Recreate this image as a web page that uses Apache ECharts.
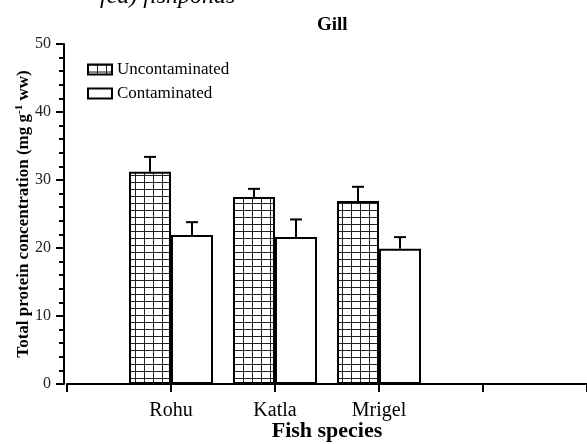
<!DOCTYPE html>
<html>
<head>
<meta charset="utf-8">
<script src="https://cdn.jsdelivr.net/npm/echarts@6/dist/echarts.min.js"></script>
<style>
html,body{margin:0;padding:0;background:#fff;}
#chart{width:587px;height:444px;}
</style>
</head>
<body>
<div id="chart"></div>
<script>
// Data
const tickLabels = ['', 'Rohu', 'Katla', 'Mrigel', '', ''];
const species = ['Rohu', 'Katla', 'Mrigel'];
const uncontaminated = [31.2, 27.5, 26.9];
const uncontaminatedErr = [2.2, 1.2, 2.1];
const contaminated = [21.9, 21.6, 19.9];
const contaminatedErr = [1.9, 2.6, 1.7];

const FONT = '"Liberation Serif", "Times New Roman", serif';

function padData(vals) {
  return tickLabels.map(function (t) {
    const i = species.indexOf(t);
    return i >= 0 ? vals[i] : '-';
  });
}
function errData(vals, errs) {
  return species.map(function (s, i) {
    return [tickLabels.indexOf(s), vals[i], errs[i]];
  });
}

// grid hatch pattern
const pc = document.createElement('canvas');
pc.width = 9; pc.height = 7;
const g = pc.getContext('2d');
g.fillStyle = '#ffffff';
g.fillRect(0, 0, 9, 7);
g.fillStyle = '#222222';
g.fillRect(0, 0, 1, 7);
g.fillRect(0, 0, 9, 1);

function errSeries(name, vals, errs, dx) {
  return {
    type: 'custom',
    name: name + ' err',
    data: errData(vals, errs),
    encode: { x: 0, y: 1 },
    z: 5,
    silent: true,
    renderItem: function (params, api) {
      const p = api.coord([api.value(0), api.value(1)]);
      const t = api.coord([api.value(0), api.value(1) + api.value(2)]);
      const x = p[0] + dx;
      return {
        type: 'group',
        children: [
          { type: 'line', shape: { x1: x, y1: p[1], x2: x, y2: t[1] }, style: { stroke: '#000', lineWidth: 2 } },
          { type: 'line', shape: { x1: x - 6, y1: t[1], x2: x + 6, y2: t[1] }, style: { stroke: '#000', lineWidth: 2 } }
        ]
      };
    }
  };
}

const chart = echarts.init(document.getElementById('chart'), null, { renderer: 'canvas' });
chart.setOption({
  animation: false,
  backgroundColor: '#fff',
  title: {
    text: 'Gill',
    left: 312, top: 11,
    textStyle: { fontFamily: FONT, fontSize: 19, fontWeight: 'bold', color: '#000' }
  },
  graphic: [{
    type: 'text',
    left: 100, top: -15,
    style: { text: 'fed) fishponds', font: 'italic 24px ' + FONT, fill: '#000' }
  }],
  legend: {
    data: ['Uncontaminated', 'Contaminated'],
    orient: 'vertical',
    left: 82, top: 56,
    itemWidth: 24, itemHeight: 10, itemGap: 7,
    icon: 'rect',
    textStyle: { fontFamily: FONT, fontSize: 17, color: '#000' }
  },
  grid: { left: 67, right: 0, top: 44, bottom: 60, containLabel: false, outerBoundsMode: 'none' },
  xAxis: {
    type: 'category',
    data: tickLabels,
    boundaryGap: false,
    offset: 1,
    axisLine: { lineStyle: { color: '#000', width: 2 } },
    axisTick: { show: true, interval: 0, length: 8, lineStyle: { color: '#000', width: 2 } },
    axisLabel: { interval: 0, margin: 16, fontFamily: FONT, fontSize: 20, color: '#000' },
    name: 'Fish species',
    nameLocation: 'middle',
    nameGap: 35,
    nameMoveOverlap: false,
    nameTextStyle: { fontFamily: FONT, fontSize: 22, fontWeight: 'bold', color: '#000' }
  },
  yAxis: {
    type: 'value',
    min: 0, max: 50, interval: 10,
    offset: 3,
    splitLine: { show: false },
    axisLine: { show: true, lineStyle: { color: '#000', width: 2 } },
    axisTick: { show: true, length: 8, lineStyle: { color: '#000', width: 2 } },
    minorTick: { show: true, splitNumber: 5, length: 5, lineStyle: { color: '#000', width: 2 } },
    axisLabel: { margin: 13, fontFamily: FONT, fontSize: 16, color: '#222' },
    name: '{b|Total protein concentration (mg g}{s|-1}{b| ww)}',
    nameLocation: 'middle',
    nameGap: 30,
    nameMoveOverlap: false,
    nameTextStyle: {
      rich: {
        b: { fontFamily: FONT, fontSize: 17, fontWeight: 'bold', color: '#000' },
        s: { fontFamily: FONT, fontSize: 11, fontWeight: 'bold', color: '#000', padding: [0, 0, 9, 0] }
      }
    }
  },
  series: [
    {
      type: 'bar',
      name: 'Uncontaminated',
      data: padData(uncontaminated),
      barWidth: 42,
      barGap: '0%',
      itemStyle: { color: { image: pc, repeat: 'repeat' }, borderColor: '#000', borderWidth: 2 }
    },
    {
      type: 'bar',
      name: 'Contaminated',
      data: padData(contaminated),
      barWidth: 42,
      barGap: '0%',
      itemStyle: { color: '#fff', borderColor: '#000', borderWidth: 2 }
    },
    errSeries('Uncontaminated', uncontaminated, uncontaminatedErr, -21),
    errSeries('Contaminated', contaminated, contaminatedErr, 21)
  ]
});
</script>
</body>
</html>
